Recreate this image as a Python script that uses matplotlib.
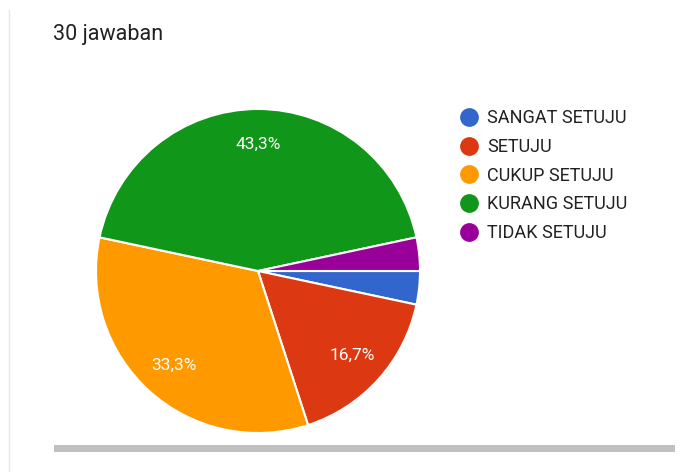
import matplotlib.pyplot as plt
from matplotlib.lines import Line2D
from matplotlib.patches import Rectangle

# data
labels = ['SANGAT SETUJU', 'SETUJU', 'CUKUP SETUJU', 'KURANG SETUJU', 'TIDAK SETUJU']
counts = [1, 5, 10, 13, 1]
colors = ['#3366cc', '#dc3912', '#ff9900', '#109618', '#990099']
total_text = '30 jawaban'

plt.rcParams['font.family'] = ['Roboto', 'DejaVu Sans']

W, H = 685, 472
fig = plt.figure(figsize=(W / 100, H / 100), dpi=100)
ax = fig.add_axes([0, 0, 1, 1])
ax.set_xlim(0, W)
ax.set_ylim(0, H)
ax.set_aspect('equal')
ax.axis('off')


def fmt_pct(p):
    if p < 5:
        return ''
    return f'{p:.1f}%'.replace('.', ',')


wedges, texts, autotexts = ax.pie(
    counts, colors=colors, startangle=0, counterclock=False,
    center=(258, H - 271), radius=162, autopct=fmt_pct, pctdistance=0.78,
    wedgeprops=dict(edgecolor='white', linewidth=1.5),
    textprops=dict(color='white', fontsize=12.5),
)
ax.set_xlim(0, W)
ax.set_ylim(0, H)

# title
ax.text(53, H - 40, total_text, fontsize=15.5, color='#212121', va='baseline', ha='left')

# legend
handles = [Line2D([], [], marker='o', linestyle='none', markersize=12.5,
                  markerfacecolor=c, markeredgecolor=c) for c in colors]
fig.legend(handles, labels, loc='upper left', bbox_to_anchor=(449 / W, 1 - 102 / H),
           frameon=False, fontsize=13, labelspacing=0.59, handlelength=1.4,
           handletextpad=0.3, labelcolor='#222222', borderaxespad=0)

# frame decorations
ax.add_patch(Rectangle((54, H - 452), 621, 7, color='#c0c0c0', lw=0))
ax.plot([9, 9], [0, H - 10], color='#e6e6e6', lw=1)

fig.savefig('out.png', dpi=100)
